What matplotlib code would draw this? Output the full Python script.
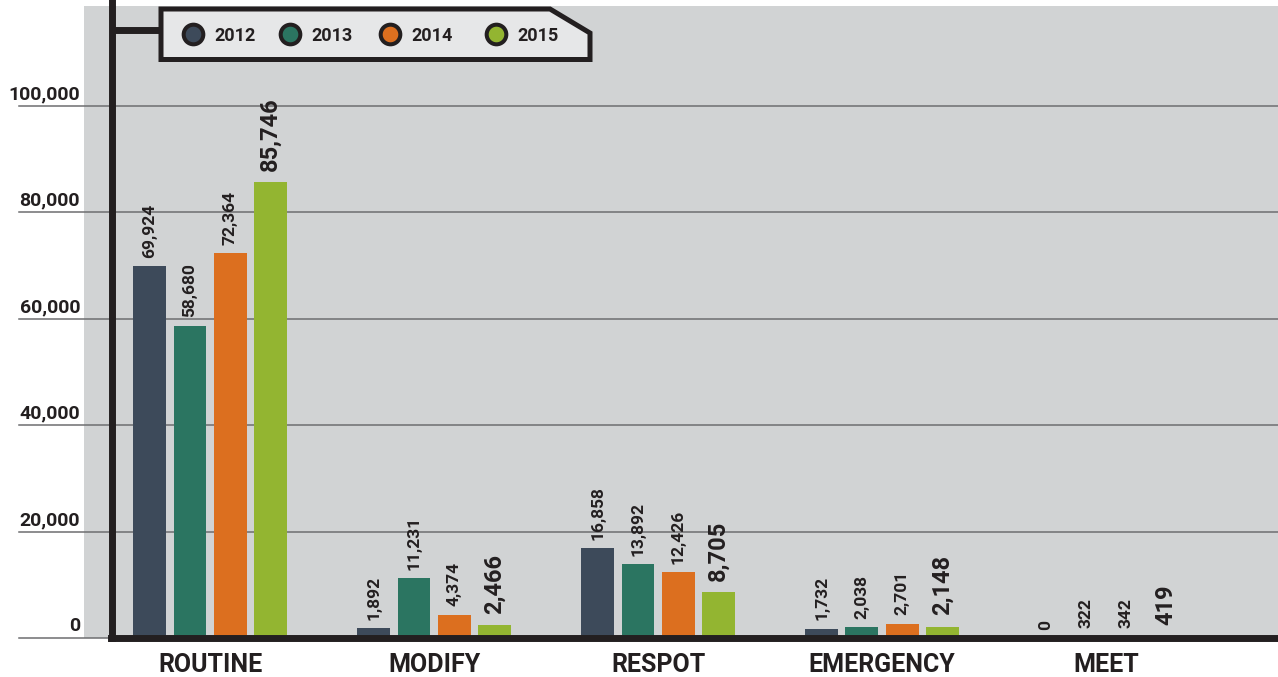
import numpy as np
import matplotlib.pyplot as plt
from matplotlib.patches import Rectangle, Polygon

categories = ["ROUTINE", "MODIFY", "RESPOT", "EMERGENCY", "MEET"]
years = ["2012", "2013", "2014", "2015"]
values = {
    "2012": [69924, 1892, 16858, 1732, 0],
    "2013": [58680, 11231, 13892, 2038, 322],
    "2014": [72364, 4374, 12426, 2701, 342],
    "2015": [85746, 2466, 8705, 2148, 419],
}
colors = ["#3d4a5a", "#2b7561", "#dc6f1f", "#93b531"]
yticks = [0, 20000, 40000, 60000, 80000, 100000]

DARK = "#231f20"
GRAY = "#d1d3d4"
W, H = 1278, 677

plt.rcParams['font.family'] = ["Roboto", "DejaVu Sans"]
plt.rcParams['font.weight'] = "bold"

fig = plt.figure(figsize=(W / 100, H / 100), dpi=100)
fig.patch.set_facecolor("white")

# gray panel behind the plot
fig.add_artist(Rectangle((84 / W, (H - 638) / H), (W - 84) / W, (638 - 6) / H,
                         transform=fig.transFigure, facecolor=GRAY,
                         edgecolor="none", zorder=-1))

ax_left, ax_bottom = 111.5 / W, (H - 638) / H
ax = fig.add_axes([ax_left, ax_bottom, 1 - ax_left, 638 / H])
ax.set_facecolor("none")

x = np.arange(len(categories))
width = 0.147
step = 0.179
for i, (yr, c) in enumerate(zip(years, colors)):
    off = (i - 1.5) * step
    bars = ax.bar(x + off, values[yr], width, color=c, zorder=2)
    big = yr == years[-1]
    for b, v in zip(bars, values[yr]):
        ax.annotate(f"{v:,}", (b.get_x() + b.get_width() / 2, b.get_height()),
                    xytext=(0, 8 if big else 6), textcoords="offset points",
                    rotation=90, ha="center", va="bottom", color=DARK,
                    fontsize=17 if big else 12.5, fontweight="bold")

ax.set_xlim(-0.44, 4.768)
ax.set_ylim(0, 638 / 5.32 * 1000)

# gridlines run out under the tick labels
for t in yticks:
    ax.axhline(t, xmin=-0.079, xmax=1, color="#6d6e70", lw=1.1,
               clip_on=False, zorder=1)
    ax.text(-0.027, t + 500, f"{t:,}", transform=ax.get_yaxis_transform(),
            ha="right", va="bottom", fontsize=14, fontweight="bold", color=DARK)

ax.set_yticks([])
ax.set_xticks(x, categories)
ax.tick_params(axis="x", length=0, pad=11, labelsize=18, labelcolor=DARK)
for lab in ax.get_xticklabels():
    lab.set_fontweight("bold")

for s in ["top", "right"]:
    ax.spines[s].set_visible(False)
for s in ["left", "bottom"]:
    ax.spines[s].set_linewidth(5)
    ax.spines[s].set_color(DARK)
    ax.spines[s].set_capstyle("projecting")
    ax.spines[s].set_zorder(3)

# legend box drawn in pixel coordinates
ov = fig.add_axes([0, 0, 1, 1], zorder=5)
ov.set_xlim(0, W)
ov.set_ylim(H, 0)
ov.axis("off")
ov.plot([111, 160], [29.5, 29.5], color=DARK, lw=5, solid_capstyle="butt")
ov.add_patch(Polygon([(161, 9), (550, 9), (590, 33), (590, 59.5), (161, 59.5)],
                     closed=True, facecolor="#e6e7e8", edgecolor=DARK,
                     lw=3.6, joinstyle="miter"))
leg_x = [193, 290, 390, 496]
for lx, yr, c in zip(leg_x, years, colors):
    ov.scatter([lx], [34], s=200, color=c, edgecolors=DARK, linewidths=2.9,
               zorder=6)
    ov.text(lx + 21, 36, yr, ha="left", va="center", fontsize=13,
            fontweight="bold", color=DARK)

fig.savefig("out.png", dpi=100)
